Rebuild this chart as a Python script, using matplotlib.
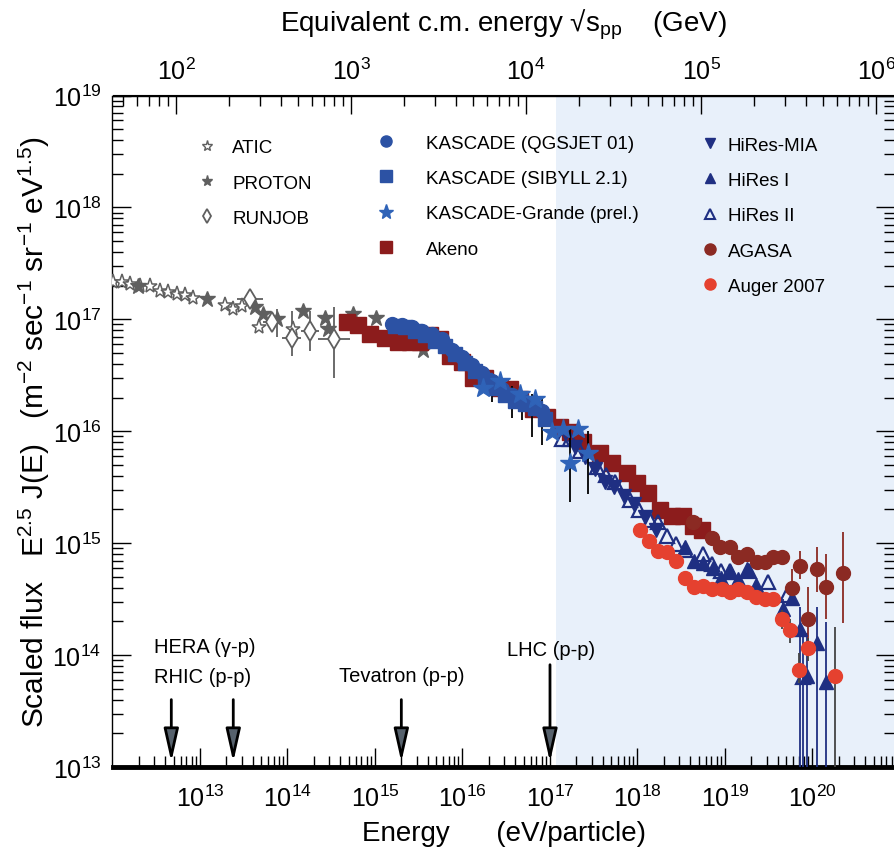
import numpy as np
import matplotlib
matplotlib.use("Agg")
import matplotlib.pyplot as plt
from matplotlib.lines import Line2D
from matplotlib.ticker import LogLocator, NullFormatter, FixedLocator

plt.rcParams['font.family'] = ['Liberation Sans Narrow', 'Liberation Sans', 'DejaVu Sans']
plt.rcParams['mathtext.fontset'] = 'custom'
plt.rcParams['mathtext.rm'] = 'Liberation Sans'
plt.rcParams['mathtext.it'] = 'Liberation Sans:italic'
plt.rcParams['mathtext.bf'] = 'Liberation Sans:bold'

# values as log10(E / eV) and log10(E^2.5 J(E))
atic_logE = [12.01, 12.11, 12.20, 12.31, 12.43, 12.54, 12.63, 12.74, 12.83, 12.92, 13.29, 13.38, 13.48, 13.67, 14.06]
atic_logF = [17.33, 17.33, 17.32, 17.30, 17.30, 17.25, 17.24, 17.23, 17.22, 17.19, 17.13, 17.09, 17.12, 16.93, 16.91]

proton_logE = [12.29, 13.08, 13.63, 13.72, 13.88, 14.18, 14.43, 14.46, 14.75, 15.01, 15.55]
proton_logF = [17.30, 17.18, 17.11, 17.05, 17.00, 17.07, 17.01, 16.91, 17.05, 17.01, 16.73]
proton_lo = [17.30, 17.18, 17.11, 17.05, 16.84, 17.07, 17.01, 16.91, 17.05, 17.01, 16.73]
proton_hi = [17.30, 17.18, 17.11, 17.05, 17.09, 17.07, 17.01, 16.91, 17.05, 17.01, 16.73]

runjob_logE = [13.57, 13.82, 14.05, 14.26, 14.53]
runjob_logF = [17.18, 16.98, 16.83, 16.90, 16.82]
runjob_lo = [17.18, 16.98, 16.67, 16.72, 16.48]
runjob_hi = [17.18, 16.98, 17.07, 17.07, 17.11]
runjob_dlogE = [0.15, 0.10, 0.11, 0.10, 0.18]

akeno_logE = [14.68, 14.81, 14.94, 15.11, 15.26, 15.40, 15.51, 15.63, 15.74, 15.86, 15.99, 16.12, 16.26, 16.43, 16.54, 16.66,
              16.81, 16.97, 17.11, 17.23, 17.38, 17.57, 17.71, 17.88, 17.99, 18.12, 18.26, 18.39, 18.52, 18.63, 18.74]
akeno_logF = [16.98, 16.95, 16.87, 16.83, 16.80, 16.80, 16.80, 16.86, 16.82, 16.67, 16.62, 16.48, 16.48, 16.39, 16.38, 16.29,
              16.20, 16.13, 16.04, 15.99, 15.90, 15.81, 15.72, 15.63, 15.54, 15.45, 15.30, 15.24, 15.24, 15.15, 15.12]

sibyll_logE = [15.23, 15.34, 15.46, 15.57, 15.69, 15.80, 15.91, 16.03, 16.14, 16.26, 16.37, 16.49, 16.60, 16.71, 16.83, 16.94]
sibyll_logF = [16.94, 16.93, 16.90, 16.86, 16.81, 16.76, 16.69, 16.61, 16.54, 16.46, 16.39, 16.32, 16.27, 16.24, 16.21, 16.11]

qgsjet_logE = [15.19, 15.31, 15.42, 15.54, 15.65, 15.77, 15.88, 15.99, 16.11, 16.22, 16.34, 16.45, 16.57, 16.68, 16.79, 16.91]
qgsjet_logF = [16.96, 16.95, 16.93, 16.90, 16.87, 16.82, 16.73, 16.66, 16.59, 16.52, 16.45, 16.38, 16.32, 16.29, 16.25, 16.18]
qgsjet_lo = [16.96, 16.95, 16.93, 16.90, 16.87, 16.82, 16.73, 16.66, 16.59, 16.40, 16.26, 16.30, 16.12, 16.10, 15.95, 15.88]
qgsjet_hi = [16.96, 16.95, 16.93, 16.90, 16.87, 16.82, 16.73, 16.66, 16.59, 16.56, 16.49, 16.42, 16.40, 16.36, 16.33, 16.30]

grande_logE = [16.23, 16.43, 16.66, 16.83, 17.02, 17.15, 17.23, 17.32, 17.43]
grande_logF = [16.39, 16.45, 16.33, 16.29, 15.99, 16.02, 15.72, 16.02, 15.81]
grande_lo = [16.39, 16.45, 16.33, 16.29, 15.99, 16.02, 15.37, 16.02, 15.44]
grande_hi = [16.39, 16.45, 16.33, 16.29, 15.99, 16.02, 16.04, 16.02, 16.00]

mia_logE = [17.29, 17.40, 17.51, 17.63, 17.73, 17.85, 17.96, 18.09, 18.21]
mia_logF = [15.86, 15.77, 15.66, 15.55, 15.50, 15.42, 15.35, 15.23, 15.12]

hires2_logE = [17.14, 17.23, 17.34, 17.54, 17.64, 17.74, 17.91, 18.02, 18.14, 18.23, 18.34, 18.44, 18.54, 18.75, 18.85,
               18.95, 19.06, 19.27, 19.49, 19.71, 19.89]
hires2_logF = [15.93, 15.93, 15.82, 15.68, 15.61, 15.55, 15.39, 15.30, 15.21, 15.19, 15.06, 14.99, 14.94, 14.90, 14.81,
               14.75, 14.75, 14.75, 14.65, 14.54, 13.80]
hires2_lo = hires2_logF[:-1] + [12.0]
hires2_hi = hires2_logF[:-1] + [14.22]

hires1_logE = [18.54, 18.65, 18.75, 18.86, 18.95, 19.06, 19.15, 19.25, 19.35, 19.66, 19.77, 19.86, 19.94, 20.05, 20.15]
hires1_logF = [14.97, 14.84, 14.82, 14.78, 14.69, 14.74, 14.68, 14.77, 14.63, 14.41, 14.51, 14.23, 13.81, 14.11, 13.76]
hires1_lo = [14.97, 14.84, 14.82, 14.78, 14.69, 14.74, 14.68, 14.77, 14.63, 14.25, 14.45, 12.0, 12.0, 12.0, 12.0]
hires1_hi = [14.97, 14.84, 14.82, 14.78, 14.69, 14.74, 14.68, 14.77, 14.63, 14.50, 14.58, 14.43, 14.20, 14.43, 14.30]

agasa_logE = [18.63, 18.85, 18.94, 19.06, 19.15, 19.25, 19.37, 19.46, 19.55, 19.65, 19.77, 19.86, 19.95, 20.05, 20.15, 20.35]
agasa_logF = [15.19, 15.05, 14.97, 14.97, 14.88, 14.90, 14.83, 14.83, 14.88, 14.88, 14.60, 14.80, 14.32, 14.77, 14.61, 14.73]
agasa_lo = [15.19, 15.05, 14.97, 14.97, 14.88, 14.90, 14.83, 14.83, 14.88, 14.88, 14.45, 14.68, 14.02, 14.56, 14.32, 14.29]
agasa_hi = [15.19, 15.05, 14.97, 14.97, 14.88, 14.90, 14.83, 14.83, 14.88, 14.88, 14.77, 14.93, 14.61, 14.97, 14.90, 15.10]

auger_logE = [18.03, 18.13, 18.23, 18.34, 18.44, 18.54, 18.65, 18.75, 18.85, 18.97, 19.06, 19.15, 19.25, 19.35, 19.46,
              19.55, 19.65, 19.74, 19.85, 19.95, 20.26]
auger_logF = [15.12, 15.02, 14.93, 14.92, 14.84, 14.69, 14.61, 14.62, 14.59, 14.59, 14.56, 14.59, 14.56, 14.52, 14.50,
              14.50, 14.32, 14.22, 13.87, 14.06, 13.81]
auger_lo = auger_logF[:16] + [14.23, 14.11, 13.75, 13.95, 12.0]
auger_hi = auger_logF[:16] + [14.40, 14.32, 14.02, 14.15, 14.25]

# accelerators: equivalent fixed-target energy (eV)
accel_names = ['HERA (γ-p)', 'RHIC (p-p)', 'Tevatron (p-p)', 'LHC (p-p)']
accel_E = [4.7e12, 2.4e13, 2.0e15, 1.0e17]

proton_mass = 0.938e9  # eV


def sqrt_s(E):
    return np.sqrt(2 * proton_mass * np.asarray(E, float)) / 1e9


def lab_energy(g):
    return (np.asarray(g, float) * 1e9) ** 2 / (2 * proton_mass)


def draw(ax, logE, logF, lo=None, hi=None, dlogE=None, ecolor=None, **kw):
    E = 10 ** np.array(logE)
    F = 10 ** np.array(logF)
    yerr = None
    xerr = None
    if lo is not None:
        yerr = [F - 10 ** np.array(lo), 10 ** np.array(hi) - F]
    if dlogE is not None:
        d = np.array(dlogE)
        xerr = [E - E / 10 ** d, E * 10 ** d - E]
    ax.errorbar(E, F, yerr=yerr, xerr=xerr, ls='none', ecolor=ecolor, elinewidth=1.3, capsize=0, **kw)


fig = plt.figure(figsize=(8.95, 8.53), dpi=100)
ax = fig.add_axes([112.5 / 895, 1 - 768 / 853, 782.5 / 895, 671.5 / 853])
ax.set_xscale('log')
ax.set_yscale('log')
ax.set_xlim(1e12, 10 ** 20.943)
ax.set_ylim(1e13, 1e19)

ax.axvspan(1.17e17, 1e22, color='#e8f0fa', zorder=0, lw=0)

gray = '#5f5f5f'
akeno_c = '#8c1c1c'
kas_c = '#2c52a4'
grande_c = '#2f63b8'
hires_c = '#1f2f82'
agasa_c = '#8b2a23'
auger_c = '#e5412f'

draw(ax, atic_logE, atic_logF, marker='*', ms=11, mfc='white', mec=gray, mew=1.1, zorder=3)
draw(ax, proton_logE, proton_logF, proton_lo, proton_hi, ecolor=gray, marker='*', ms=12, color=gray, zorder=3)
draw(ax, runjob_logE, runjob_logF, runjob_lo, runjob_hi, runjob_dlogE, ecolor=gray, marker='d', ms=10,
     mfc='white', mec=gray, mew=1.3, zorder=3)
draw(ax, akeno_logE, akeno_logF, marker='s', ms=12, color=akeno_c, mec=akeno_c, zorder=4)
draw(ax, sibyll_logE, sibyll_logF, marker='s', ms=10, color=kas_c, mec=kas_c, zorder=5)
draw(ax, qgsjet_logE, qgsjet_logF, qgsjet_lo, qgsjet_hi, ecolor='black', marker='o', ms=10, color=kas_c, zorder=5)
draw(ax, mia_logE, mia_logF, marker='v', ms=10, color=hires_c, zorder=5)
draw(ax, hires2_logE, hires2_logF, hires2_lo, hires2_hi, ecolor=hires_c, marker='^', ms=10, mfc='none',
     mec=hires_c, mew=1.6, zorder=5)
draw(ax, hires1_logE, hires1_logF, hires1_lo, hires1_hi, ecolor=hires_c, marker='^', ms=10, color=hires_c, zorder=6)
draw(ax, agasa_logE, agasa_logF, agasa_lo, agasa_hi, ecolor=agasa_c, marker='o', ms=10, color=agasa_c, zorder=6)
draw(ax, auger_logE, auger_logF, auger_lo, auger_hi, ecolor='#444444', marker='o', ms=10, color=auger_c, zorder=7)
draw(ax, grande_logE, grande_logF, grande_lo, grande_hi, ecolor='black', marker='*', ms=15, color=grande_c, zorder=8)

# accelerator arrows and labels
for E in accel_E:
    top = 8.2e13 if E > 1e16 else 4.0e13
    ax.annotate('', xy=(E, 1.11e13), xytext=(E, top),
                arrowprops=dict(arrowstyle='-|>,head_length=2.0,head_width=0.45', lw=2,
                                edgecolor='black', facecolor='#56616c', shrinkA=0, shrinkB=0,
                                mutation_scale=10), zorder=9)
ax.text(2.98e12, 10 ** 14.08, accel_names[0], fontsize=14.5, va='center', ha='left')
ax.text(2.98e12, 10 ** 13.81, accel_names[1], fontsize=14.5, va='center', ha='left')
ax.text(accel_E[2], 10 ** 13.82, accel_names[2], fontsize=14.5, va='center', ha='center')
ax.text(3.2e16, 10 ** 14.05, accel_names[3], fontsize=14.5, va='center', ha='left')

# legends
leg_kw = dict(loc='upper left', frameon=False, fontsize=13.5, borderpad=0, borderaxespad=0,
              handlelength=1.0, labelspacing=0.97, numpoints=1)
h1 = [Line2D([], [], ls='none', marker='*', ms=8, mfc='white', mec=gray, label='ATIC'),
      Line2D([], [], ls='none', marker='*', ms=8, color=gray, label='PROTON'),
      Line2D([], [], ls='none', marker='d', ms=7, mfc='white', mec=gray, mew=1.3, label='RUNJOB')]
h2 = [Line2D([], [], ls='none', marker='o', ms=8, color=kas_c, label='KASCADE (QGSJET 01)'),
      Line2D([], [], ls='none', marker='s', ms=8, color=kas_c, label='KASCADE (SIBYLL 2.1)'),
      Line2D([], [], ls='none', marker='*', ms=11, color=grande_c, label='KASCADE-Grande (prel.)'),
      Line2D([], [], ls='none', marker='s', ms=8, color=akeno_c, label='Akeno')]
h3 = [Line2D([], [], ls='none', marker='v', ms=7, color=hires_c, label='HiRes-MIA'),
      Line2D([], [], ls='none', marker='^', ms=7, color=hires_c, label='HiRes I'),
      Line2D([], [], ls='none', marker='^', ms=7, mfc='none', mec=hires_c, mew=1.5, label='HiRes II'),
      Line2D([], [], ls='none', marker='o', ms=8, color=agasa_c, label='AGASA'),
      Line2D([], [], ls='none', marker='o', ms=8, color=auger_c, label='Auger 2007')]
l1 = ax.legend(handles=h1, bbox_to_anchor=(0.109, 0.935), handletextpad=0.83, **leg_kw)
ax.add_artist(l1)
l2 = ax.legend(handles=h2, bbox_to_anchor=(0.338, 0.942), handletextpad=1.63, **leg_kw)
ax.add_artist(l2)
ax.legend(handles=h3, bbox_to_anchor=(0.751, 0.939), handletextpad=0.46, **leg_kw)

# ticks and spines
ax.xaxis.set_major_locator(FixedLocator(10.0 ** np.arange(13, 21)))
ax.yaxis.set_major_locator(FixedLocator(10.0 ** np.arange(13, 20)))
for axis in (ax.xaxis, ax.yaxis):
    axis.set_minor_locator(LogLocator(base=10, subs=np.arange(2, 10), numticks=30))
    axis.set_minor_formatter(NullFormatter())
ax.tick_params(which='both', direction='in', top=False, right=True, width=1)
ax.tick_params(which='major', length=14, labelsize=18)
ax.tick_params(axis='x', which='major', pad=13)
ax.tick_params(axis='y', which='major', pad=8)
ax.tick_params(which='minor', length=8)
for s in ['left', 'right', 'top']:
    ax.spines[s].set_linewidth(1.0)
ax.spines['bottom'].set_linewidth(3.5)

sec = ax.secondary_xaxis('top', functions=(sqrt_s, lab_energy))
sec.xaxis.set_major_locator(FixedLocator(10.0 ** np.arange(2, 7)))
sec.xaxis.set_minor_locator(LogLocator(base=10, subs=np.arange(2, 10), numticks=30))
sec.xaxis.set_minor_formatter(NullFormatter())
sec.tick_params(which='both', direction='in', width=1)
sec.tick_params(which='major', length=14, labelsize=18, pad=8)
sec.tick_params(which='minor', length=8)
sec.set_xlabel('Equivalent c.m. energy √s$_{\\mathrm{pp}}$    (GeV)', fontsize=20, labelpad=20)

ax.set_xlabel('Energy      (eV/particle)', fontsize=20, labelpad=6)
ax.set_ylabel('Scaled flux   E$^{2.5}$ J(E)   (m$^{-2}$ sec$^{-1}$ sr$^{-1}$ eV$^{1.5}$)', fontsize=21.5, labelpad=0)

fig.savefig('out.png', dpi=100)
